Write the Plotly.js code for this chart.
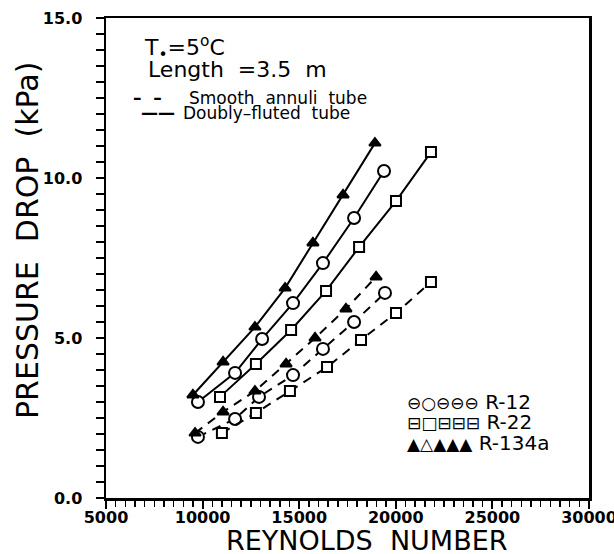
<!DOCTYPE html>
<html>
<head>
<meta charset="utf-8">
<script src="https://cdn.plot.ly/plotly-3.0.1.min.js"></script>
<style>html,body{margin:0;padding:0;background:#fff;}#chart{width:614px;height:554px;}</style>
</head>
<body>
<div id="chart"></div>
<script>
// Reynolds numbers and pressure drops (kPa)
const reFlutedR12   = [9760, 11680, 13080, 14680, 16230, 17840, 19390];
const dpFlutedR12   = [3.00, 3.91, 4.97, 6.09, 7.34, 8.75, 10.22];
const reFlutedR22   = [10900, 12760, 14580, 16390, 18100, 20010, 21820];
const dpFlutedR22   = [3.16, 4.19, 5.25, 6.47, 7.84, 9.28, 10.81];
const reFlutedR134a = [9500, 11060, 12710, 14270, 15710, 17270, 18920];
const dpFlutedR134a = [3.22, 4.25, 5.34, 6.56, 7.97, 9.47, 11.09];

const reSmoothR12   = [9760, 11680, 12920, 14680, 16230, 17840, 19440];
const dpSmoothR12   = [1.91, 2.47, 3.16, 3.84, 4.66, 5.50, 6.41];
const reSmoothR22   = [11000, 12760, 14520, 16440, 18200, 20010, 21820];
const dpSmoothR22   = [2.03, 2.66, 3.34, 4.09, 4.94, 5.78, 6.75];
const reSmoothR134a = [9610, 11060, 12710, 14320, 15820, 17420, 18980];
const dpSmoothR134a = [2.03, 2.69, 3.34, 4.19, 5.00, 5.91, 6.91];

const xTicks = [5000, 10000, 15000, 20000, 25000, 30000];
const yTicks = [0, 5, 10, 15];
const legendNames = ['R-12', 'R-22', 'R-134a'];

const FONT = 'DejaVu Sans, Liberation Sans, sans-serif';

function trace(x, y, sym, dash, size, fill) {
  return {
    x: x, y: y, type: 'scatter', mode: 'lines+markers', showlegend: false,
    cliponaxis: false,
    line: {color: '#000', width: 2, dash: dash},
    marker: {symbol: sym, size: size, color: fill ? '#000' : '#fff',
             line: {color: '#000', width: 2}}
  };
}

const data = [
  trace(reFlutedR12, dpFlutedR12, 'circle', 'solid', 12, false),
  trace(reFlutedR22, dpFlutedR22, 'square', 'solid', 10, false),
  trace(reFlutedR134a, dpFlutedR134a, 'triangle-up', 'solid', 10, true),
  trace(reSmoothR12, dpSmoothR12, 'circle', '9px,7px', 12, false),
  trace(reSmoothR22, dpSmoothR22, 'square', '9px,7px', 10, false),
  trace(reSmoothR134a, dpSmoothR134a, 'triangle-up', '9px,7px', 10, true)
];

const ann = (text, x, y, size, extra) => Object.assign({
  text: text, xref: 'paper', yref: 'paper', x: x, y: y,
  xanchor: 'left', yanchor: 'middle', showarrow: false,
  font: {family: FONT, size: size, color: '#000'}
}, extra || {});

// pixel helpers for placing annotations (plot area 106..589 x, 18..498 y)
const px = v => (v - 106) / (589 - 106);
const py = v => (498 - v) / (498 - 18);

const glyph = s => '<span style="font-size:17px">' + s + '</span>';

const layout = {
  width: 614, height: 554,
  margin: {l: 106, r: 25, t: 18, b: 56},
  paper_bgcolor: '#fff', plot_bgcolor: '#fff',
  font: {family: FONT, color: '#000'},
  xaxis: {
    range: [5000, 30000], tickvals: xTicks, ticktext: xTicks.map(String),
    ticks: 'outside', ticklen: 8, tickwidth: 2, tickcolor: '#000',
    minor: {dtick: 500, ticks: 'outside', ticklen: 6, tickwidth: 1.5, tickcolor: '#000'},
    showline: true, linewidth: 2.5, linecolor: '#000', mirror: true,
    showgrid: false, zeroline: false, ticklabeloverflow: 'allow',
    ticklabelstandoff: -5,
    tickfont: {family: FONT, size: 16, color: '#000', weight: 'bold'}
  },
  yaxis: {
    range: [0, 15], tickvals: yTicks, ticktext: yTicks.map(v => v.toFixed(1)),
    ticks: 'outside', ticklen: 8, tickwidth: 2, tickcolor: '#000',
    minor: {dtick: 0.5, ticks: 'outside', ticklen: 8, tickwidth: 1.5, tickcolor: '#000'},
    showline: true, linewidth: 2.5, linecolor: '#000', mirror: true,
    showgrid: false, zeroline: false, ticklabeloverflow: 'allow',
    ticklabelstandoff: 10,
    tickfont: {family: FONT, size: 16, color: '#000', weight: 'bold'}
  },
  annotations: [
    ann('PRESSURE  DROP  (kPa)', px(27), py(241), 30, {xanchor: 'center', textangle: -90}),
    ann('REYNOLDS  NUMBER', px(367), py(540), 27, {xanchor: 'center'}),
    ann('T<sub>•</sub>=5<sup>o</sup>C', px(142), py(48), 22),
    ann('Length  =3.5  m', px(146), py(70), 22),
    ann('<b>–  –</b>', px(131), py(98), 17),
    ann('Smooth  annuli  tube', px(187), py(98), 17),
    ann('<b>——</b>', px(139), py(113), 17),
    ann('Doubly–fluted  tube', px(181), py(113), 17),
    ann(glyph('⊖○⊖⊖⊖') + ' ' + legendNames[0], px(405), py(402), 20),
    ann(glyph('⊟□⊟⊟⊟') + ' ' + legendNames[1], px(405), py(422), 20),
    ann(glyph('▲△▲▲▲') + ' ' + legendNames[2], px(405), py(443), 20)
  ]
};

Plotly.newPlot('chart', data, layout, {staticPlot: true, displayModeBar: false});
</script>
</body>
</html>
